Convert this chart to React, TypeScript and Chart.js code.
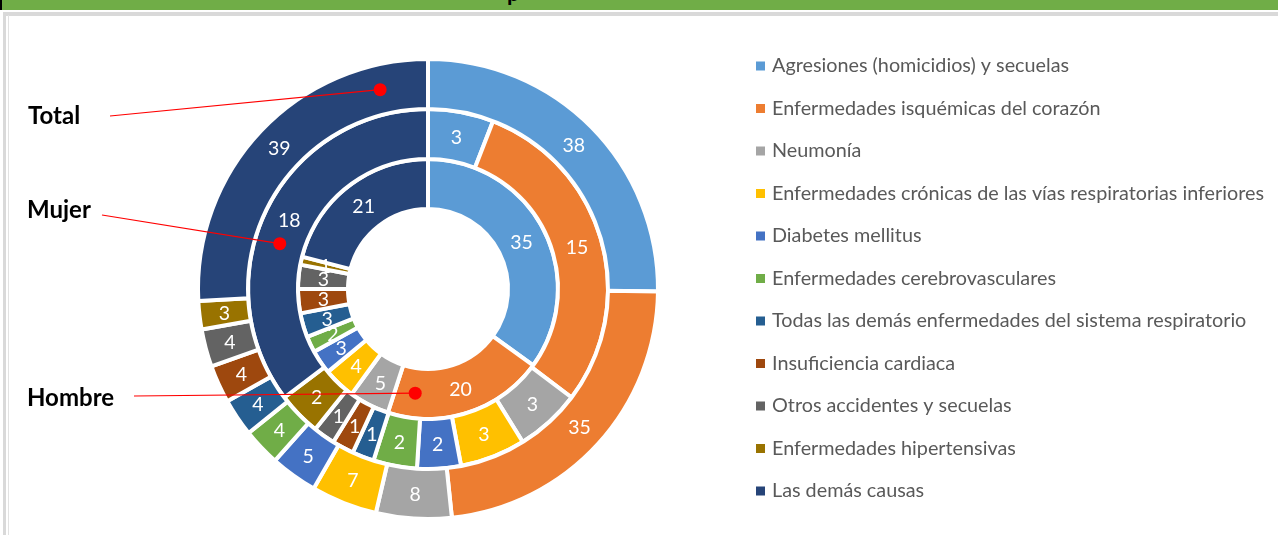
import React, { useEffect, useRef } from 'react';
import { Chart, registerables } from 'chart.js';

Chart.register(...registerables);

// ---- Data ----
const categories = [
  'Agresiones (homicidios) y secuelas',
  'Enfermedades isquémicas del corazón',
  'Neumonía',
  'Enfermedades crónicas de las vías respiratorias inferiores',
  'Diabetes mellitus',
  'Enfermedades cerebrovasculares',
  'Todas las demás enfermedades del sistema respiratorio',
  'Insuficiencia cardiaca',
  'Otros accidentes y secuelas',
  'Enfermedades hipertensivas',
  'Las demás causas',
];

const seriesNames = ['Total', 'Mujer', 'Hombre'];
const totalValues = [38, 35, 8, 7, 5, 4, 4, 4, 4, 3, 39];
const mujerValues = [3, 15, 3, 3, 2, 2, 1, 1, 1, 2, 18];
const hombreValues = [35, 20, 5, 4, 3, 2, 3, 3, 3, 1, 21];

const sliceColors = [
  '#5B9BD5',
  '#ED7D31',
  '#A5A5A5',
  '#FFC000',
  '#4472C4',
  '#70AD47',
  '#255E91',
  '#9E480E',
  '#636363',
  '#997300',
  '#264478',
];

// annotation callouts: which ring (dataset index) and angle (deg, clockwise from top)
const callouts = [
  { text: 'Total', ring: 0, angle: 346.5, textX: 28, textY: 124, lineX: 110, lineY: 116 },
  { text: 'Mujer', ring: 1, angle: 287, textX: 27, textY: 218, lineX: 102, lineY: 215 },
  { text: 'Hombre', ring: 2, angle: 187, textX: 27, textY: 406, lineX: 134, lineY: 396 },
];

const FONT = 'Lato, "Open Sans", sans-serif';

const valueLabelsPlugin = {
  id: 'valueLabels',
  afterDatasetsDraw(chart: any) {
    const ctx = chart.ctx;
    ctx.save();
    ctx.fillStyle = '#FFFFFF';
    ctx.font = `19.5px ${FONT}`;
    ctx.textAlign = 'center';
    ctx.textBaseline = 'middle';
    chart.data.datasets.forEach((ds: any, di: number) => {
      const meta = chart.getDatasetMeta(di);
      meta.data.forEach((arc: any, i: number) => {
        const p = arc.getCenterPoint();
        ctx.fillText(String(ds.data[i]), p.x, p.y + 1);
      });
    });
    ctx.restore();
  },
};

const sideLegendPlugin = {
  id: 'sideLegend',
  afterDraw(chart: any) {
    const ctx = chart.ctx;
    const labels = chart.data.labels as string[];
    const colors = chart.data.datasets[0].backgroundColor as string[];
    ctx.save();
    ctx.font = `19.8px ${FONT}`;
    ctx.textBaseline = 'middle';
    ctx.textAlign = 'left';
    labels.forEach((lab, i) => {
      const cy = 66 + i * 42.5;
      ctx.fillStyle = colors[i];
      ctx.fillRect(756, cy - 4.5, 9, 9);
      ctx.fillStyle = '#595959';
      ctx.fillText(lab, 772, cy);
    });
    ctx.restore();
  },
};

const calloutPlugin = {
  id: 'callouts',
  afterDraw(chart: any) {
    const ctx = chart.ctx;
    ctx.save();
    callouts.forEach((c) => {
      const meta = chart.getDatasetMeta(c.ring);
      const arc: any = meta.data[0];
      const r = (arc.innerRadius + arc.outerRadius) / 2;
      const a = (c.angle * Math.PI) / 180;
      const dx = arc.x + r * Math.sin(a);
      const dy = arc.y - r * Math.cos(a);
      ctx.strokeStyle = '#FF0000';
      ctx.lineWidth = 1.2;
      ctx.beginPath();
      ctx.moveTo(c.lineX, c.lineY);
      ctx.lineTo(dx, dy);
      ctx.stroke();
      ctx.fillStyle = '#FF0000';
      ctx.beginPath();
      ctx.arc(dx, dy, 6.5, 0, Math.PI * 2);
      ctx.fill();
      ctx.fillStyle = '#000000';
      ctx.font = `bold 24px ${FONT}`;
      ctx.textAlign = 'left';
      ctx.textBaseline = 'alphabetic';
      ctx.fillText(c.text, c.textX, c.textY);
    });
    ctx.restore();
  },
};

export default function App() {
  const canvasRef = useRef<HTMLCanvasElement | null>(null);

  useEffect(() => {
    if (!canvasRef.current) return;
    const datasetValues = [totalValues, mujerValues, hombreValues];
    const chart = new Chart(canvasRef.current, {
      type: 'doughnut',
      data: {
        labels: categories,
        datasets: datasetValues.map((vals, i) => ({
          label: seriesNames[i],
          data: vals,
          backgroundColor: sliceColors,
          borderColor: '#FFFFFF',
          borderWidth: 4,
          hoverBorderWidth: 4,
          hoverOffset: 0,
          offset: 0,
        })),
      },
      options: {
        responsive: false,
        animation: false,
        events: [],
        cutout: 80,
        layout: { padding: { left: 196, top: 57, right: 618, bottom: 14 } },
        plugins: {
          legend: { display: false },
          tooltip: { enabled: false },
          title: { display: false },
        },
      },
      plugins: [valueLabelsPlugin, sideLegendPlugin, calloutPlugin],
    });
    let alive = true;
    if ((document as any).fonts) {
      Promise.all([
        (document as any).fonts.load(`19px Lato`),
        (document as any).fonts.load(`bold 24px Lato`),
      ]).then(() => {
        if (alive) chart.draw();
      }).catch(() => {});
    }
    return () => {
      alive = false;
      chart.destroy();
    };
  }, []);

  return (
    <div
      style={{
        position: 'absolute',
        left: 0,
        top: 0,
        width: 1278,
        height: 535,
        overflow: 'hidden',
        background: '#FFFFFF',
      }}
    >
      {/* green header band with cut-off title */}
      <div
        style={{
          position: 'absolute',
          left: 0,
          top: 0,
          width: 1278,
          height: 10,
          background: '#70AD47',
          overflow: 'hidden',
        }}
      >
        <div style={{ position: 'absolute', left: 0, top: 0, width: 2, height: 10, background: '#000' }} />
        <span
          style={{
            position: 'absolute',
            left: 507,
            top: -20,
            fontFamily: 'Lato, sans-serif',
            fontWeight: 700,
            fontSize: 22,
            lineHeight: '26px',
            color: '#000',
          }}
        >
          p
        </span>
      </div>
      {/* frame */}
      <div
        style={{
          position: 'absolute',
          left: 3,
          top: 12,
          width: 1275,
          height: 523,
          borderTop: '4px solid #D9D9D9',
          borderLeft: '3px solid #D9D9D9',
          boxSizing: 'border-box',
        }}
      />
      <div style={{ position: 'absolute', left: 8, top: 15, width: 1, height: 520, background: '#E2E2E2' }} />
      <canvas
        ref={canvasRef}
        width={1278}
        height={535}
        style={{ position: 'absolute', left: 0, top: 0, width: 1278, height: 535 }}
      />
    </div>
  );
}
